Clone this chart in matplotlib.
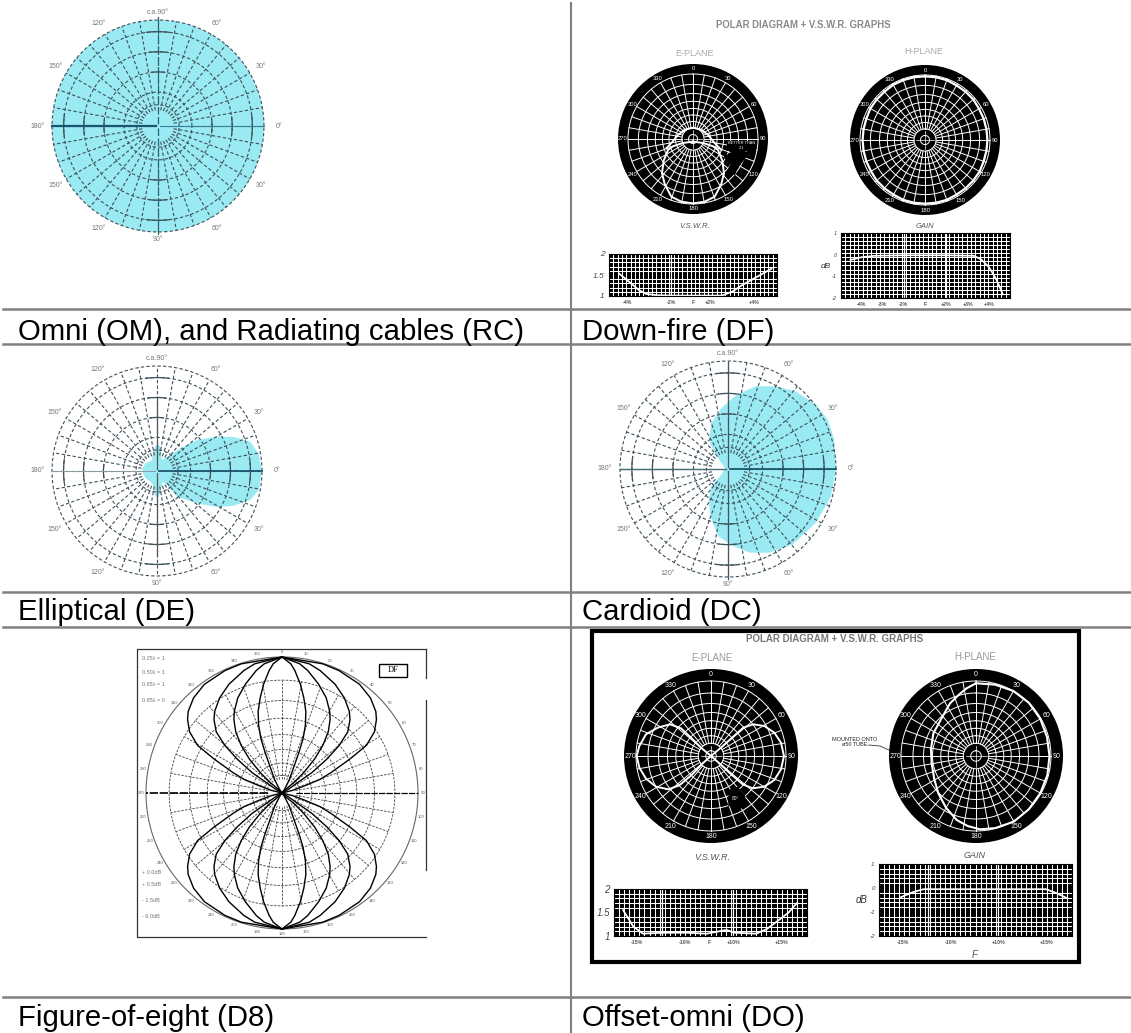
import numpy as np
import matplotlib
matplotlib.use("Agg")
import matplotlib.pyplot as plt

plt.rcParams["font.family"] = ["Liberation Sans", "DejaVu Sans"]

W, H = 1131, 1033

row_labels = [
    "Omni (OM), and Radiating cables (RC)", "Down-fire (DF)",
    "Elliptical (DE)", "Cardioid (DC)",
    "Figure-of-eight (D8)", "Offset-omni (DO)",
]

# cyan diagrams, angle counter-clockwise from the right, radius 0-1
omni_theta = list(range(0, 361, 5))
omni_r = [1.0] * 73
ellip_theta = [0, 9.9, 17.4, 24, 29.8, 37.8, 44, 55, 65.6, 82, 90, 99, 118, 147, 169, 182, 212, 240, 255, 266, 274,
               299, 305, 308, 321, 329, 335.5, 342.7, 349.4, 360]
ellip_r = [1.0, 0.98, 0.93, 0.8, 0.66, 0.48, 0.31, 0.166, 0.115, 0.234, 0.26, 0.2, 0.11, 0.133, 0.14, 0.14, 0.13, 0.12,
           0.14, 0.245, 0.245, 0.116, 0.164, 0.31, 0.49, 0.665, 0.8, 0.93, 0.985, 1.0]
card_theta = [0, 15.4, 26.3, 36, 48.7, 59.7, 71.2, 83.6, 96.2, 110, 123, 130, 138, 163, 180, 220, 226,
              238, 249.5, 261.6, 273.7, 284.5, 296.4, 310.7, 328.6, 345.2, 360]
card_r = [1.0, 1.02, 1.03, 1.01, 0.955, 0.884, 0.812, 0.69, 0.566, 0.452, 0.323, 0.192, 0.083, 0.03, 0.03,
          0.08, 0.222, 0.335, 0.466, 0.628, 0.715, 0.8, 0.865, 0.92, 0.955, 0.987, 1.0]
angle_labels = ["0°", "30°", "60°", "c.a.90°", "120°", "150°", "180°", "150°", "120°", "90°", "60°", "30°"]

# figure-of-eight, angle away from the vertical, one pair of lists per lobe
lobe1_phi = [0, 17.5, 25, 35.5, 42.9, 49, 52.1, 56.5, 60.6, 63.4, 67.4, 70.3, 72.6, 76, 90]
lobe1_r = [1.0, 0.996, 0.993, 0.982, 0.955, 0.914, 0.88, 0.815, 0.712, 0.559, 0.39, 0.297, 0.168, 0.082, 0.0]
lobe2_phi = [0, 11.9, 17.3, 26, 33.3, 39.5, 42.8, 47.1, 50.2, 52.9, 55.7, 56.3, 59, 90]
lobe2_r = [1.0, 0.971, 0.943, 0.89, 0.836, 0.778, 0.736, 0.66, 0.547, 0.414, 0.266, 0.144, 0.058, 0.0]
lobe3_phi = [0, 7.8, 11.9, 18.6, 24.9, 30.3, 33.2, 37.1, 40.6, 43.8, 46.8, 48.4, 45, 90]
lobe3_r = [1.0, 0.959, 0.92, 0.844, 0.772, 0.695, 0.646, 0.564, 0.461, 0.347, 0.219, 0.12, 0.042, 0.0]
lobe4_phi = [0, 3.9, 6, 9.6, 12.9, 16.3, 19, 21.2, 22.6, 24.2, 28.8, 33.7, 90]
lobe4_r = [1.0, 0.952, 0.905, 0.811, 0.718, 0.625, 0.529, 0.429, 0.325, 0.219, 0.114, 0.036, 0.0]
eight_notes_top = ["0.25λ = 1", "0.50λ = 1", "0.65λ = 1", "0.85λ = 0"]
eight_notes_low = ["+ 0.0dB", "+ 0.5dB", "- 1.5dB", "- 6.0dB"]

# dials, angle clockwise from the top
dial_labels = [0, 30, 60, 90, 120, 150, 180, 210, 240, 270, 300, 330]

df_lobe_theta = [180, 111.8, 110, 113.8, 126.5, 137.9, 147.8, 159.4, 169.5, 180, 190.5, 200.6, 212.2,
                 222.1, 233.5, 246.2, 250, 248.2, 180]
df_lobe_r = [0.04, 0.166, 0.328, 0.42, 0.561, 0.711, 0.818, 0.948, 0.981, 0.99, 0.981, 0.948, 0.818,
             0.711, 0.561, 0.42, 0.328, 0.166, 0.04]
df_arc_theta = [250.7, 259.5, 284.9, 318.2, 360, 401.8, 435, 460.5, 471.2]
df_arc_r = [0.435, 0.339, 0.239, 0.192, 0.174, 0.192, 0.239, 0.339, 0.468]
df_h_theta = list(range(0, 361, 10))
df_h_r = [0.98, 0.98, 0.98, 0.97, 0.97, 0.97, 0.96, 0.96, 0.96, 0.96, 0.96, 0.96, 0.97, 0.97, 0.97, 0.97, 0.98, 0.98,
          0.98, 0.98, 0.98, 0.97, 0.97, 0.97, 0.96, 0.96, 0.96, 0.96, 0.96, 0.96, 0.97, 0.97, 0.97, 0.98, 0.98, 0.98, 0.98]

do_e_theta = [0, 50, 49, 48.8, 53.2, 60.6, 69.8, 79.2, 90, 100.8, 110.8, 119.9, 127.8, 131.8, 132.4, 131.3, 0,
              228.7, 225.5, 227.2, 232, 240.9, 250.8, 260.8, 270, 277.9, 288.4, 298, 307.7, 312.7, 312.5, 309.8, 0]
do_e_r = [0.0, 0.173, 0.394, 0.573, 0.705, 0.816, 0.9, 0.95, 0.973, 0.95, 0.903, 0.82, 0.703, 0.566, 0.343, 0.148, 0.0,
          0.148, 0.361, 0.576, 0.722, 0.84, 0.918, 0.968, 0.991, 0.965, 0.914, 0.805, 0.691, 0.544, 0.362, 0.173, 0.0]
do_h_theta = [0, 15, 30, 45, 60, 75, 90, 105, 120, 135, 150, 165, 176.9, 186.8, 196.8, 210.1, 225.3, 240.8,
              260.6, 278.4, 298, 316.3, 333.7, 344.9, 352.1, 360]
do_h_r = [0.97, 0.985, 1.0, 1.0, 0.99, 0.98, 0.98, 0.985, 0.99, 1.0, 1.01, 0.995, 0.979, 0.94, 0.891, 0.797, 0.707,
          0.637, 0.599, 0.607, 0.644, 0.676, 0.783, 0.852, 0.911, 0.97]

# small graphs
df_vswr_x = [-4.55, -3.8, -3.3, -2.85, -2.2, -1.25, 0.0, 1.95, 2.6, 3.2, 4.2, 5.1]
df_vswr_y = [1.53, 1.3, 1.14, 1.05, 1.02, 1.01, 1.01, 1.01, 1.1, 1.25, 1.46, 1.65]
df_gain_x = [-3.5, -3.0, -2.35, -1.0, 0.0, 1.0, 2.27, 2.6, 2.97, 3.2, 3.36, 3.5, 3.64]
df_gain_y = [-0.24, -0.12, -0.05, -0.03, -0.03, -0.03, -0.05, -0.2, -0.55, -0.9, -1.19, -1.5, -1.83]
do_vswr_x = [-1.78, -1.57, -1.37, -0.95, -0.47, -0.05, 0.36, 0.53, 0.98, 1.2, 1.46, 1.65, 1.82]
do_vswr_y = [1.55, 1.2, 1.05, 1.07, 1.07, 1.05, 1.13, 1.07, 1.05, 1.15, 1.35, 1.5, 1.7]
do_gain_x = [-1.56, -1.3, -1.07, 0.0, 1.49, 1.7, 1.94]
do_gain_y = [-0.4, -0.18, -0.05, -0.05, -0.05, -0.2, -0.43]

vswr_yticks = [1, 1.5, 2]
vswr_ylabels = ["1", "1.5", "2"]
gain_yticks = [-2, -1, 0, 1]
gain_ylabels = ["-2", "-1", "0", "1"]
df_vswr_ticks = [-4, -1.25, 0.15, 1.2, 4]
df_vswr_labels = ["-4%", "-2%", "F", "+2%", "+4%"]
df_gain_ticks = [-3, -2, -1, 0, 1, 2, 3]
df_gain_labels = ["-4%", "-3%", "-2%", "F", "+2%", "+3%", "+4%"]
do_ticks = [-1.5, -0.5, 0.0, 0.5, 1.5]
do_labels = ["-15%", "-10%", "F", "+10%", "+15%"]
do_gain_ticks = [-1.5, -0.5, 0.5, 1.5]
do_gain_labels = ["-15%", "-10%", "+10%", "+15%"]

fig = plt.figure(figsize=(W / 100, H / 100), dpi=100)

# page layer in pixel coordinates: table lines, text
page = fig.add_axes([0, 0, 1, 1])
page.set_xlim(0, W)
page.set_ylim(H, 0)
page.axis("off")

for y in [309, 344, 592, 627, 997]:
    page.plot([3, W], [y, y], color="#808080", lw=1.8)
page.plot([571, 571], [3, H], color="#808080", lw=1.5)

for (x, y), s in zip([(18, 340), (582, 340), (18, 620), (582, 620), (18, 1026), (582, 1026)], row_labels):
    page.text(x, y, s, fontsize=21.2, color="black", va="baseline")


def box(x0, y0, x1, y1):
    return [x0 / W, 1 - y1 / H, (x1 - x0) / W, (y1 - y0) / H]


def polar(cx, cy, r_px, rmax=1.0, clockwise=True):
    ax = fig.add_axes(box(cx - r_px * rmax, cy - r_px * rmax, cx + r_px * rmax, cy + r_px * rmax),
                      projection="polar")
    if clockwise:
        ax.set_theta_zero_location("N")
        ax.set_theta_direction(-1)
    ax.set_rlim(0, rmax)
    ax.set_xticks([])
    ax.set_yticks([])
    ax.spines["polar"].set_visible(False)
    return ax


def grid(ax, rings, spoke_step, r0, color, lw, ls):
    t = np.radians(np.linspace(0, 360, 361))
    for r in rings:
        ax.plot(t, np.full_like(t, r), color=color, lw=lw, ls=ls)
    for a in np.arange(0, 360, spoke_step):
        ax.plot(np.radians([a, a]), [r0, rings[-1]], color=color, lw=lw, ls=ls)


def cyan_chart(cx, cy, r_px, theta, r, left, right, vert):
    ax = polar(cx, cy, r_px, rmax=1.03, clockwise=False)
    ax.patch.set_alpha(0)
    ax.fill(np.radians(theta), r, color="#9aeaf3", lw=0)
    grid(ax, [0.2, 0.32, 0.51, 0.7, 0.89, 1.0], 10, 0.15, "#3f5058", 0.8, (0, (3, 2)))
    # solid pieces of the rings next to the main axes
    for a in [0, 90, 180, 270]:
        for rr in [0.51, 0.7, 0.89]:
            t = np.radians(np.linspace(a - 7, a + 7, 8))
            ax.plot(t, np.full_like(t, rr), color="#3f5058", lw=0.9)
    ax.plot(np.radians([180, 180]), [0.02, 1.0], color=left[0], lw=left[1])
    ax.plot(np.radians([0, 0]), [0.02, 1.0], color=right[0], lw=right[1])
    ax.plot(np.radians([90, 90]), [0.02, vert[1]], color=vert[0], lw=0.9, ls=vert[2])
    ax.plot(np.radians([270, 270]), [0.02, vert[1] + 0.1], color=vert[0], lw=0.9, ls=vert[2])
    for a, s in zip(range(0, 360, 30), angle_labels):
        rr = 1.07 if a % 180 == 90 else (1.14 if a % 180 == 0 else 1.12)
        ax.text(np.radians(a), rr, s, fontsize=5, color="#777777", ha="center", va="center")
    return ax


def dial(cx, cy, r_out, r_in, label_size):
    ax = polar(cx, cy, r_in, rmax=r_out / r_in)
    ax.set_facecolor("black")
    grid(ax, [0.07, 0.17, 0.27, 0.37, 0.47, 0.58, 0.7, 0.84, 1.0], 10, 0.17, "white", 0.7, "-")
    ax.plot(np.radians([0, 180]), [0.14, 0.14], color="white", lw=0.5)
    ax.plot(np.radians([90, 270]), [0.14, 0.14], color="white", lw=0.5)
    for a in dial_labels:
        ax.text(np.radians(a), (1 + r_out / r_in) / 2, str(a), fontsize=label_size, color="white",
                ha="center", va="center")
    return ax


def graph(rect, xlim, ylim, nx, ny, x, y, xticks, xlabels, yticks, ylabels, ysize, vlines=()):
    ax = fig.add_axes(box(*rect))
    ax.set_facecolor("black")
    ax.set_xlim(*xlim)
    ax.set_ylim(*ylim)
    ax.set_xticks(np.linspace(xlim[0], xlim[1], nx + 1), minor=True)
    ax.set_yticks(np.linspace(ylim[0], ylim[1], ny + 1), minor=True)
    ax.set_xticks(xticks, xlabels, fontsize=3.8, color="#555555", weight="bold")
    ax.set_yticks(yticks, ylabels, fontsize=ysize, color="#444444", style="italic")
    ax.tick_params(which="both", length=0, pad=3)
    ax.grid(which="minor", color="white", lw=0.75)
    ax.set_axisbelow(True)
    for v in vlines:
        ax.axvline(v, color="white", lw=0.9)
    ax.plot(x, y, color="white", lw=1.3)
    return ax


# cyan diagrams
cyan_chart(158, 126, 106, omni_theta, omni_r, ("#1c5570", 1.6), ("#3b7f96", 0.8), ("#2a6478", 1.05, (0, (6, 2))))
cyan_chart(157, 471, 105, ellip_theta, ellip_r, ("#8a9aa0", 0.7), ("#1c5570", 1.3), ("#555555", 0.7, "-"))
cyan_chart(728, 469, 108, card_theta, card_r, ("#4a6a78", 1.0), ("#1c5570", 1.3), ("#445566", 0.98, "-"))

# figure-of-eight
ax = polar(282, 793, 136, rmax=1.02)
ax.patch.set_alpha(0)
grid(ax, [0.13, 0.22, 0.32, 0.43, 0.55, 0.68, 0.83], 10, 0.1, "#444444", 0.6, (0, (3, 1.5)))
t = np.radians(np.linspace(0, 360, 361))
ax.plot(t, np.ones_like(t), color="#666666", lw=0.8)
ax.plot(np.radians([270, 270]), [0.1, 1.0], color="black", lw=1.2, ls=(0, (5, 1)))
ax.plot(np.radians([90, 90]), [0.1, 1.0], color="black", lw=0.9, ls=(0, (5, 1)))
for phi, rr in [(lobe1_phi, lobe1_r), (lobe2_phi, lobe2_r), (lobe3_phi, lobe3_r), (lobe4_phi, lobe4_r)]:
    for sign, base in [(1, 0), (-1, 0), (1, 180), (-1, 180)]:
        ax.plot(np.radians(base + sign * np.array(phi)), rr, color="black", lw=1.0)
for a in range(0, 360, 10):
    ax.text(np.radians(a), 1.035, str(a), fontsize=3, color="#555555", ha="center", va="center")
page.plot([426, 137, 137, 426], [649, 649, 937, 937], color="#333333", lw=0.9)
page.plot([426, 426], [649, 678], color="#333333", lw=0.9)
page.plot([426, 426], [700, 870], color="#333333", lw=0.9)
page.add_patch(plt.Rectangle((379, 664), 28, 13, fc="white", ec="black", lw=1))
page.text(393, 670.5, "DF", fontsize=6, family="Liberation Serif", ha="center", va="center")
for y, s in zip([659, 672, 685, 701], eight_notes_top):
    page.text(142, y, s, fontsize=4, color="#777777", va="center")
for y, s in zip([872, 884, 900, 917], eight_notes_low):
    page.text(142, y, s, fontsize=4, color="#777777", va="center")

# down-fire
page.text(803, 25, "POLAR DIAGRAM + V.S.W.R. GRAPHS", fontsize=6.9, weight="bold", color="#8a8a8a",
          ha="center", va="center")
page.text(695, 53, "E-PLANE", fontsize=6.5, color="#aaaaaa", ha="center", va="center")
page.text(924, 52, "H-PLANE", fontsize=6.5, color="#aaaaaa", ha="center", va="center")
ax = dial(693, 139, 75, 65, 4.2)
ax.plot(np.radians(df_lobe_theta), df_lobe_r, color="white", lw=1.4)
ax.plot(np.radians(df_arc_theta), df_arc_r, color="white", lw=1.4)
ax.fill(np.radians([120, 106, 104, 125, 130, 136, 122]), [0.56, 0.66, 0.88, 0.81, 0.84, 0.74, 0.7],
        color="black", zorder=3)
ax.text(np.radians(98), 0.75, "BETTER THAN\n2:1", fontsize=2.8, color="white", ha="center", va="center", zorder=4,
        bbox=dict(fc="black", ec="none", pad=0.5))
ax = dial(925, 140, 75, 65, 4.2)
ax.plot(np.radians(df_h_theta), df_h_r, color="white", lw=1.6)
graph((609, 254, 777, 296), (-5.2, 5.45), (1, 2), 39, 10, df_vswr_x, df_vswr_y,
      df_vswr_ticks, df_vswr_labels, vswr_yticks, vswr_ylabels, 6, vlines=[-1.25])
page.text(695, 226, "V.S.W.R.", fontsize=5.5, style="italic", color="#555555", ha="center", va="center")
graph((841, 233, 1010, 298), (-3.95, 3.98), (-2, 1), 39, 16, df_gain_x, df_gain_y,
      df_gain_ticks, df_gain_labels, gain_yticks, gain_ylabels, 4, vlines=[-1, 1])
page.text(925, 227, "GAIN", fontsize=5.5, style="italic", color="#555555", ha="center", va="center")
page.text(826, 266, "dB", fontsize=6, style="italic", color="#333333", ha="center", va="center")

# offset-omni
page.add_patch(plt.Rectangle((591.5, 631), 487, 331, fc="white", ec="black", lw=3))
page.text(835, 639, "POLAR DIAGRAM + V.S.W.R. GRAPHS", fontsize=7, weight="bold", color="#777777",
          ha="center", va="center")
page.text(712, 658, "E-PLANE", fontsize=7, color="#999999", ha="center", va="center")
page.text(975, 657, "H-PLANE", fontsize=7, color="#999999", ha="center", va="center")
ax = dial(711, 756, 87, 75, 5)
ax.plot(np.radians(do_e_theta), do_e_r, color="white", lw=1.4)
ax.fill(np.radians([140, 152, 160, 150, 140]), [0.55, 0.52, 0.7, 0.8, 0.7], color="black", zorder=3)
ax.text(np.radians(150), 0.66, "80°", fontsize=3.5, color="white", ha="center", va="center", zorder=4)
ax = dial(976, 756, 87, 75, 5)
ax.plot(np.radians(do_h_theta), do_h_r, color="white", lw=1.5)
page.text(855, 742, "MOUNTED ONTO\nø50 TUBE.", fontsize=4, color="#222222", ha="center", va="center")
page.plot([869, 880, 889], [745, 746, 750], color="#333333", lw=0.6)
graph((614, 889, 807, 936), (-1.97, 2.03), (1, 2), 38, 10, do_vswr_x, do_vswr_y,
      do_ticks, do_labels, vswr_yticks, vswr_ylabels, 7, vlines=[-0.97, 0.5])
page.text(712, 857, "V.S.W.R.", fontsize=6.5, style="italic", color="#555555", ha="center", va="center")
graph((879, 864, 1072, 936), (-2, 2.04), (-2, 1), 38, 15, do_gain_x, do_gain_y,
      do_gain_ticks, do_gain_labels, gain_yticks, gain_ylabels, 4.5, vlines=[-0.97, 0.5])
page.text(975, 856, "GAIN", fontsize=6.5, style="italic", color="#555555", ha="center", va="center")
page.text(862, 900, "dB", fontsize=7, style="italic", color="#333333", ha="center", va="center")
page.text(975, 955, "F", fontsize=7, style="italic", color="#555555", ha="center", va="center")

fig.savefig("out.png", dpi=100)
